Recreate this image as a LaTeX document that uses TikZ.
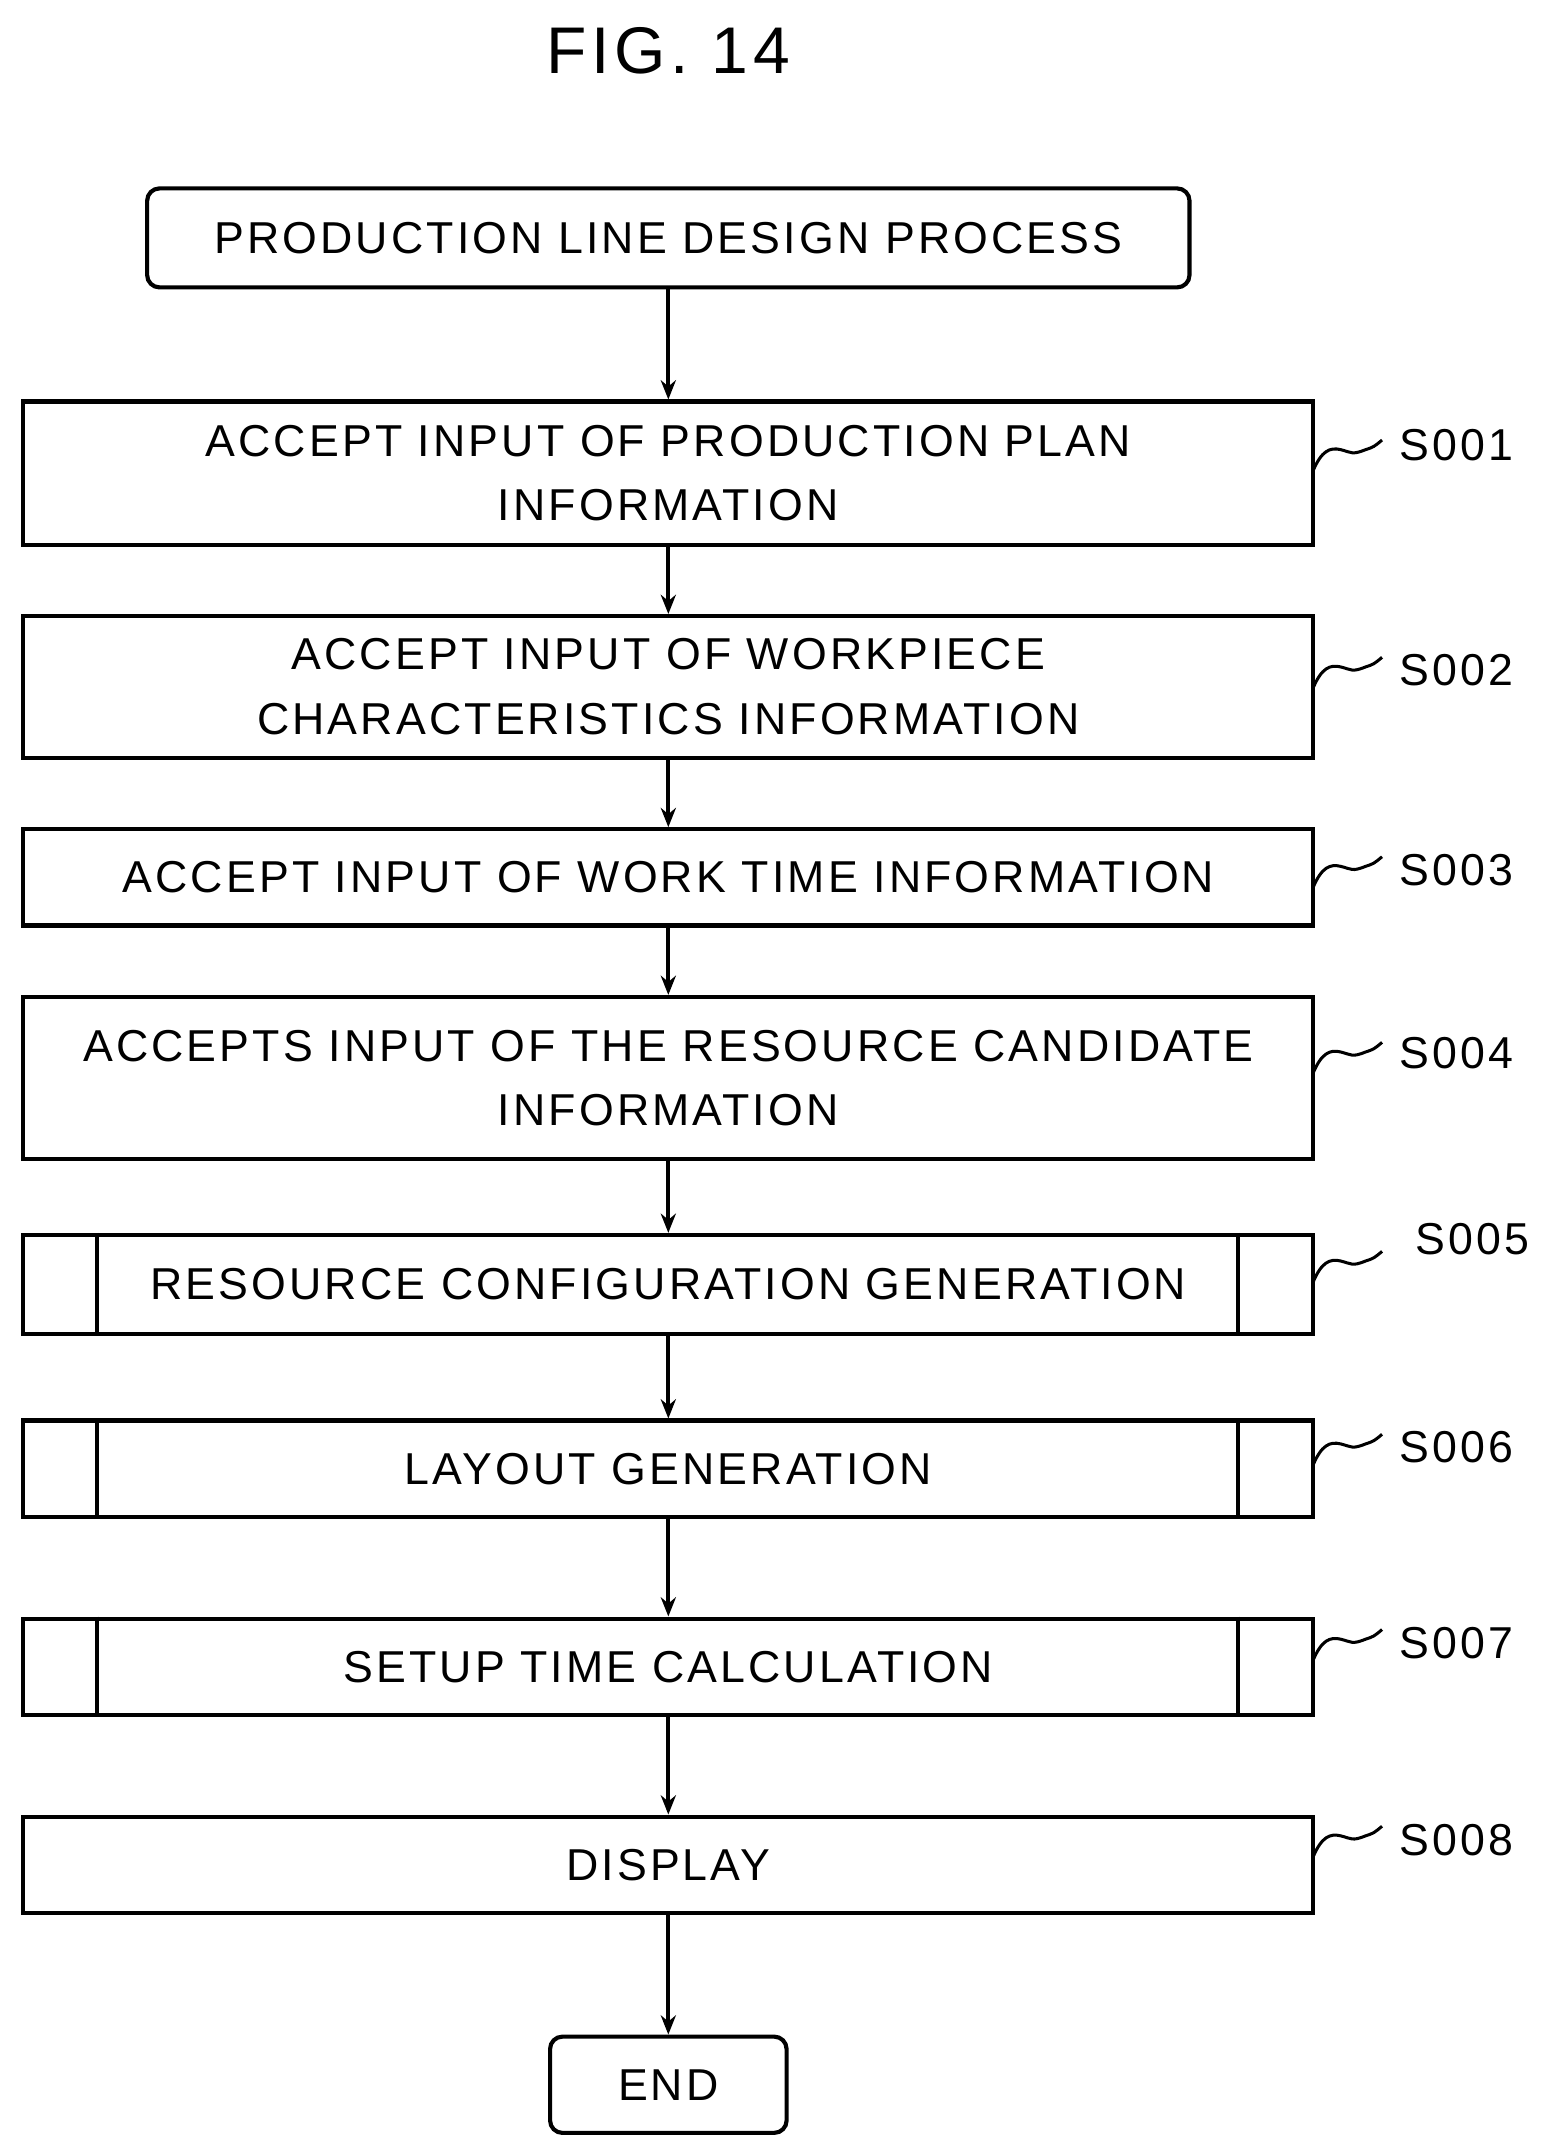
\documentclass[tikz,border=0pt]{standalone}
\usepackage{fontspec}
\setmainfont{Liberation Sans}[LetterSpace=7]
\usetikzlibrary{arrows.meta}
\begin{document}
\begin{tikzpicture}[x=1pt,y=-1pt,
  box/.style={draw,line width=3pt,minimum width=938pt,align=center,font=\fontsize{32.5}{47}\selectfont,inner sep=0pt},
  rbox/.style={draw,line width=3pt,rounded corners=9pt,font=\fontsize{32.5}{34}\selectfont,inner sep=0pt},
  arr/.style={-{Stealth[length=14pt,width=11pt]},line width=3pt},
  lab/.style={font=\fontsize{32.5}{34}\selectfont,anchor=west},
  sq/.style={line width=2.2pt}]
\useasboundingbox (0,0) rectangle (1140,1562);
\node[font=\fontsize{48}{56}\selectfont] (title) at (486,37) {FIG. 14};
\node[rbox,minimum width=758pt,minimum height=72pt] (st) at (486,173) {PRODUCTION LINE DESIGN PROCESS};
\node[box,minimum height=104pt] (s1) at (486,344) {ACCEPT INPUT OF PRODUCTION PLAN\\INFORMATION};
\node[box,minimum height=103pt] (s2) at (486,499.5) {ACCEPT INPUT OF WORKPIECE\\CHARACTERISTICS INFORMATION};
\node[box,minimum height=70pt] (s3) at (486,638) {ACCEPT INPUT OF WORK TIME INFORMATION};
\node[box,minimum height=118pt] (s4) at (486,784) {ACCEPTS INPUT OF THE RESOURCE CANDIDATE\\INFORMATION};
\node[box,minimum height=72pt] (s5) at (486,934) {RESOURCE CONFIGURATION GENERATION};
\node[box,minimum height=70pt] (s6) at (486,1068) {LAYOUT GENERATION};
\node[box,minimum height=70pt] (s7) at (486,1212) {SETUP TIME CALCULATION};
\node[box,minimum height=70pt] (s8) at (486,1356) {DISPLAY};
\node[rbox,minimum width=172pt,minimum height=70pt] (en) at (486,1516) {END};
\foreach \n in {s5,s6,s7}{
  \draw[line width=3pt] ([xshift=55pt]\n.north west) -- ([xshift=55pt]\n.south west);
  \draw[line width=3pt] ([xshift=-56pt]\n.north east) -- ([xshift=-56pt]\n.south east);
}
\draw[arr] (st) -- (s1);
\draw[arr] (s1) -- (s2);
\draw[arr] (s2) -- (s3);
\draw[arr] (s3) -- (s4);
\draw[arr] (s4) -- (s5);
\draw[arr] (s5) -- (s6);
\draw[arr] (s6) -- (s7);
\draw[arr] (s7) -- (s8);
\draw[arr] (s8) -- (en);
\foreach \n/\y/\t/\ly/\lx in {s1/342/S001/324/1014,s2/500/S002/487/1014,s3/645/S003/633/1014,s4/780/S004/766/1014,s5/932/S005/901/1026,s6/1065/S006/1052/1014,s7/1207/S007/1195/1014,s8/1350/S008/1338/1014}{
  \coordinate (a\n) at (955,\y);
  \draw[sq] (a\n) .. controls ++(6,-14) and ++(-8,-2) .. ++(20,-15) .. controls ++(8,2) and ++(-10,4) .. ++(18,0) .. controls ++(6,-2) .. ++(12,-7);
  \node[lab] (l\n) at (\lx,\ly) {\t};
}
\end{tikzpicture}
\end{document}
